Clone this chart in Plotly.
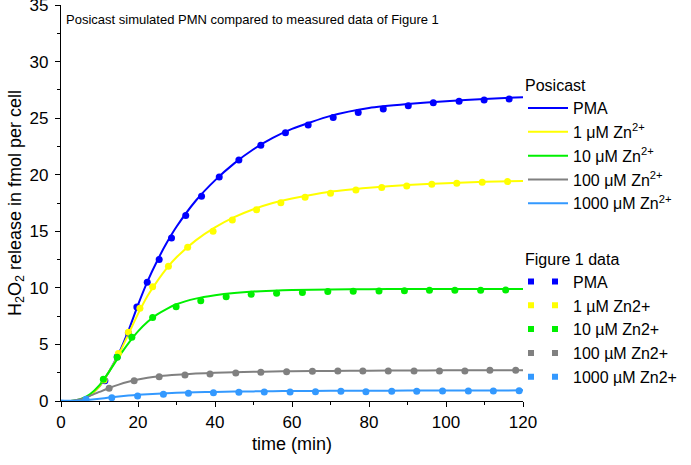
import plotly.graph_objects as go

# ---- Data ----
t_curve = [0, 2.5, 5, 7.5, 10, 12.5, 15, 17.5, 20, 22.5, 25, 27.5, 30, 35, 40, 45, 50, 55, 60, 70, 80, 90, 100, 110, 120]
sim_pma = [0, 0, 0.1, 0.5, 1.3, 2.6, 4.2, 6.2, 8.5, 10.6, 12.4, 14.0, 15.4, 17.7, 19.5, 21.0, 22.25, 23.25, 24.05, 25.2, 25.9, 26.25, 26.5, 26.7, 26.85]
sim_zn1 = [0, 0, 0.1, 0.5, 1.3, 2.6, 4.1, 5.9, 7.7, 9.3, 10.6, 11.75, 12.7, 14.2, 15.35, 16.25, 16.95, 17.5, 17.9, 18.5, 18.85, 19.1, 19.25, 19.38, 19.45]
sim_zn10 = [0, 0, 0.15, 0.6, 1.4, 2.6, 3.9, 5.1, 6.15, 7.0, 7.65, 8.15, 8.55, 9.05, 9.35, 9.55, 9.68, 9.75, 9.8, 9.85, 9.88, 9.9, 9.9, 9.9, 9.9]
sim_zn100 = [0, 0, 0.15, 0.45, 0.8, 1.15, 1.45, 1.7, 1.9, 2.05, 2.17, 2.25, 2.32, 2.42, 2.49, 2.54, 2.58, 2.61, 2.63, 2.66, 2.68, 2.7, 2.71, 2.72, 2.72]
sim_zn1000 = [0.05, 0.02, 0.05, 0.12, 0.2, 0.3, 0.4, 0.48, 0.55, 0.6, 0.65, 0.69, 0.72, 0.77, 0.8, 0.83, 0.85, 0.87, 0.88, 0.9, 0.91, 0.92, 0.93, 0.93, 0.94]

pma_t = [11.4, 14.6, 17.5, 19.7, 22.4, 25.5, 28.7, 32.4, 36.5, 41.1, 46.2, 51.9, 58.3, 64.2, 70.7, 77.2, 83.7, 90.2, 96.7, 103.4, 109.9, 116.4]
pma_v = [1.8, 3.9, 6.0, 8.3, 10.5, 12.5, 14.4, 16.4, 18.1, 19.8, 21.3, 22.6, 23.7, 24.4, 25.05, 25.5, 25.8, 26.1, 26.35, 26.5, 26.6, 26.7]
zn1_t = [11.2, 14.9, 17.5, 20.5, 23.8, 27.9, 32.9, 39.5, 44.5, 50.8, 57.1, 63.4, 70.0, 76.6, 83.3, 89.8, 96.3, 102.8, 109.4, 116.0]
zn1_v = [1.85, 4.2, 6.07, 8.2, 10.1, 11.9, 13.6, 15.0, 16.0, 16.9, 17.53, 18.0, 18.36, 18.66, 18.86, 19.0, 19.16, 19.25, 19.34, 19.39]
zn10_t = [11.0, 14.6, 18.4, 23.8, 29.9, 36.3, 42.9, 49.4, 56.0, 62.7, 69.3, 75.9, 82.6, 89.2, 95.7, 102.3, 109.0, 115.5]
zn10_v = [1.92, 3.86, 5.63, 7.37, 8.34, 8.86, 9.22, 9.43, 9.52, 9.58, 9.67, 9.7, 9.73, 9.75, 9.79, 9.79, 9.79, 9.81]
zn100_t = [12.5, 19.0, 25.5, 32.2, 38.7, 45.4, 51.9, 58.6, 65.3, 71.9, 78.4, 85.0, 91.7, 98.3, 104.9, 111.4, 118.1]
zn100_v = [1.12, 1.80, 2.15, 2.30, 2.39, 2.48, 2.53, 2.59, 2.62, 2.65, 2.65, 2.65, 2.65, 2.65, 2.65, 2.71, 2.71]
zn1000_t = [6.5, 13.2, 19.9, 26.6, 33.1, 39.6, 46.2, 52.8, 59.5, 66.1, 72.7, 79.2, 85.9, 92.4, 99.1, 105.8, 112.3, 119.0]
zn1000_v = [0.15, 0.29, 0.44, 0.59, 0.68, 0.73, 0.77, 0.80, 0.80, 0.82, 0.86, 0.82, 0.86, 0.86, 0.88, 0.88, 0.88, 0.91]

sim_names = ["PMA", "1 \u03bcM Zn<sup>2+</sup>", "10 \u03bcM Zn<sup>2+</sup>",
             "100 \u03bcM Zn<sup>2+</sup>", "1000 \u03bcM Zn<sup>2+</sup>"]
data_names = ["PMA", "1 \u00b5M Zn2+", "10 \u00b5M Zn2+", "100 \u00b5M Zn2+", "1000 \u00b5M Zn2+"]
colors = ["#0000FF", "#FFFF00", "#00F000", "#808080", "#3399FF"]

sims = [sim_pma, sim_zn1, sim_zn10, sim_zn100, sim_zn1000]
data_t = [pma_t, zn1_t, zn10_t, zn100_t, zn1000_t]
data_v = [pma_v, zn1_v, zn10_v, zn100_v, zn1000_v]

FONT = "Liberation Sans, Arial, sans-serif"

fig = go.Figure()
for name, y, c in zip(sim_names, sims, colors):
    fig.add_trace(go.Scatter(x=t_curve, y=y, mode="lines", name=name,
                             line=dict(color=c, width=2, shape="spline", smoothing=0.6),
                             legend="legend"))
for name, x, y, c in zip(data_names, data_t, data_v, colors):
    fig.add_trace(go.Scatter(x=x, y=y, mode="markers", name=name,
                             marker=dict(color=c, size=7), showlegend=False))
    # legend entry drawn as a pair of dots
    fig.add_trace(go.Scatter(x=[None], y=[None], mode="lines", name=name,
                             line=dict(color=c, width=6, dash="6px,18px"),
                             legend="legend2", hoverinfo="skip"))

fig.update_layout(
    width=691, height=465,
    margin=dict(l=61, r=168, t=5, b=64, autoexpand=False),
    paper_bgcolor="white", plot_bgcolor="white",
    font=dict(family=FONT, size=17, color="black"),
    showlegend=True,
    legend=dict(x=1.0, y=0.835, xanchor="left", yanchor="top",
                title=dict(text="Posicast", font=dict(size=16)),
                font=dict(size=16), itemwidth=40, tracegroupgap=0,
                bgcolor="rgba(0,0,0,0)"),
    legend2=dict(x=1.0, y=0.397, xanchor="left", yanchor="top",
                 title=dict(text="Figure 1 data", font=dict(size=16)),
                 font=dict(size=16), itemwidth=40, tracegroupgap=0,
                 bgcolor="rgba(0,0,0,0)"),
    xaxis=dict(range=[0, 120], dtick=20, tick0=0, ticks="outside", ticklen=5,
               tickwidth=1.3, tickcolor="black", automargin=False,
               showline=True, linecolor="black", linewidth=1.3, mirror=False,
               showgrid=False, zeroline=False, ticklabeloverflow="allow",
               minor=dict(dtick=10, ticks="outside", ticklen=3, tickcolor="black", tickwidth=1.3),
               title=dict(text="time (min)", font=dict(size=18), standoff=6)),
    yaxis=dict(range=[0, 35], dtick=5, tick0=0, ticks="outside", ticklen=5,
               tickwidth=1.3, tickcolor="black", automargin=False, ticklabelstandoff=3,
               showline=True, linecolor="black", linewidth=1.3, mirror=False,
               showgrid=False, zeroline=False, ticklabeloverflow="allow",
               minor=dict(dtick=2.5, ticks="outside", ticklen=3, tickcolor="black", tickwidth=1.3),
               title=dict(text="H<sub>2</sub>O<sub>2</sub> release in fmol per cell",
                          font=dict(size=18), standoff=3)),
    annotations=[dict(text="Posicast simulated PMN compared to measured data of Figure 1",
                      xref="paper", yref="paper", x=0.006, y=1.0, xanchor="left", yanchor="top",
                      yshift=-5, showarrow=False, font=dict(size=13))],
)

fig.write_html("out.html", config={"displayModeBar": False},
               post_script="document.body.style.margin='0px';")
